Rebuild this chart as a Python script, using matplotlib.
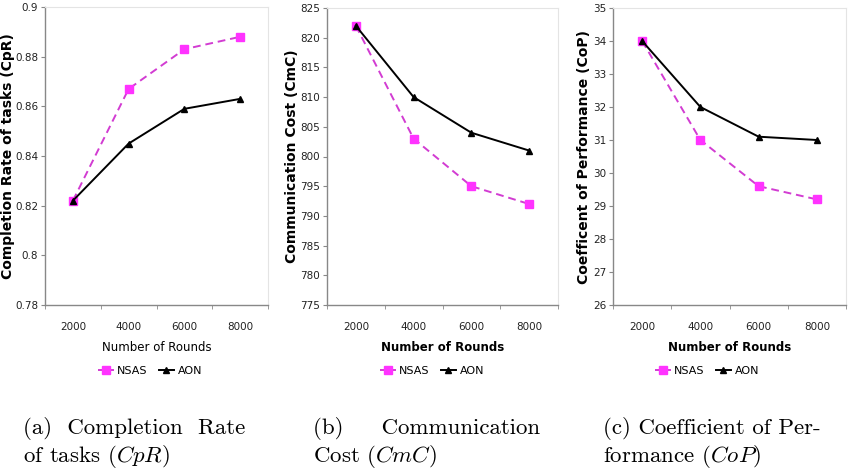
import matplotlib.pyplot as plt
import numpy as np

rounds = ['2000', '4000', '6000', '8000']

cpr_nsas = [0.822, 0.867, 0.883, 0.888]
cpr_aon = [0.822, 0.845, 0.859, 0.863]

cmc_nsas = [822, 803, 795, 792]
cmc_aon = [822, 810, 804, 801]

cop_nsas = [34.0, 31.0, 29.6, 29.2]
cop_aon = [34.0, 32.0, 31.1, 31.0]

plt.rcParams['mathtext.fontset'] = 'cm'

fig = plt.figure(figsize=(8.48, 4.76), dpi=100)

W, H = 848, 476


def px_axes(left, right, top, bottom):
    return fig.add_axes([left / W, 1 - bottom / H, (right - left) / W, (bottom - top) / H])


panels = [
    dict(box=(45, 268, 7, 305), nsas=cpr_nsas, aon=cpr_aon,
         ylim=(0.78, 0.9), yticks=np.arange(0.78, 0.901, 0.02),
         ylabels=['0.78', '0.8', '0.82', '0.84', '0.86', '0.88', '0.9'],
         ylabel='Completion Rate of tasks (CpR)', ylab_off=30, xbold=False,
         legx=150, caption='(a)  Completion  Rate\nof tasks ($CpR$)', capx=23),
    dict(box=(327, 558, 8, 305), nsas=cmc_nsas, aon=cmc_aon,
         ylim=(775, 825), yticks=np.arange(775, 826, 5),
         ylabels=[str(v) for v in range(775, 826, 5)],
         ylabel='Communication Cost (CmC)', ylab_off=28, xbold=True,
         legx=432, caption='(b)     Communication\nCost ($CmC$)', capx=313),
    dict(box=(613, 846, 8, 305), nsas=cop_nsas, aon=cop_aon,
         ylim=(26, 35), yticks=np.arange(26, 36, 1),
         ylabels=[str(v) for v in range(26, 36)],
         ylabel='Coefficent of Performance (CoP)', ylab_off=22, xbold=True,
         legx=707, caption='(c) Coefficient of Per-\nformance ($CoP$)', capx=603),
]

x = np.arange(len(rounds))

for p in panels:
    ax = px_axes(*p['box'])
    ax.plot(x, p['nsas'], color='#d23cd2', linestyle=(0, (4, 2.5)), linewidth=1.4,
            marker='s', markersize=6, markerfacecolor='#ff33ff',
            markeredgecolor='#ff33ff', label='NSAS', zorder=3)
    ax.plot(x, p['aon'], color='black', linewidth=1.4,
            marker='^', markersize=5, markerfacecolor='black',
            markeredgecolor='black', label='AON', zorder=4)

    ax.set_xlim(-0.5, 3.5)
    ax.set_xticks(x)
    ax.set_xticklabels(rounds, fontsize=7.5, color='#222222')
    ax.set_xticks(np.arange(-0.5, 3.6, 1), minor=True)
    ax.tick_params(axis='x', which='major', length=0, pad=12)
    ax.tick_params(axis='x', which='minor', length=3, direction='out', color='#888888')

    ax.set_ylim(*p['ylim'])
    ax.set_yticks(p['yticks'])
    ax.set_yticklabels(p['ylabels'], fontsize=7.5, color='#222222')
    ax.tick_params(axis='y', length=3, direction='out', color='#888888', pad=2)

    ax.set_ylabel(p['ylabel'], fontsize=10, fontweight='bold')
    width_px = p['box'][1] - p['box'][0]
    ax.yaxis.set_label_coords(-p['ylab_off'] / width_px, 0.5)
    ax.set_xlabel('Number of Rounds', fontsize=8.5,
                  fontweight='bold' if p['xbold'] else 'normal', labelpad=7)

    for side in ['left', 'bottom']:
        ax.spines[side].set_color('#888888')
        ax.spines[side].set_linewidth(1.0)
    for side in ['top', 'right']:
        ax.spines[side].set_color('#e4e4e4')
        ax.spines[side].set_linewidth(0.8)

    h, l = ax.get_legend_handles_labels()
    fig.legend(h, l, loc='center', bbox_to_anchor=(p['legx'] / W, 1 - 371 / H),
               ncol=2, frameon=False, fontsize=8,
               handlelength=1.4, handletextpad=0.3, columnspacing=1.0,
               markerscale=0.9)

    fig.text(p['capx'] / W, 1 - 417 / H, p['caption'], fontsize=16.5,
             family='cmr10', va='top', ha='left', linespacing=1.18)

fig.savefig('out.png', dpi=100)
